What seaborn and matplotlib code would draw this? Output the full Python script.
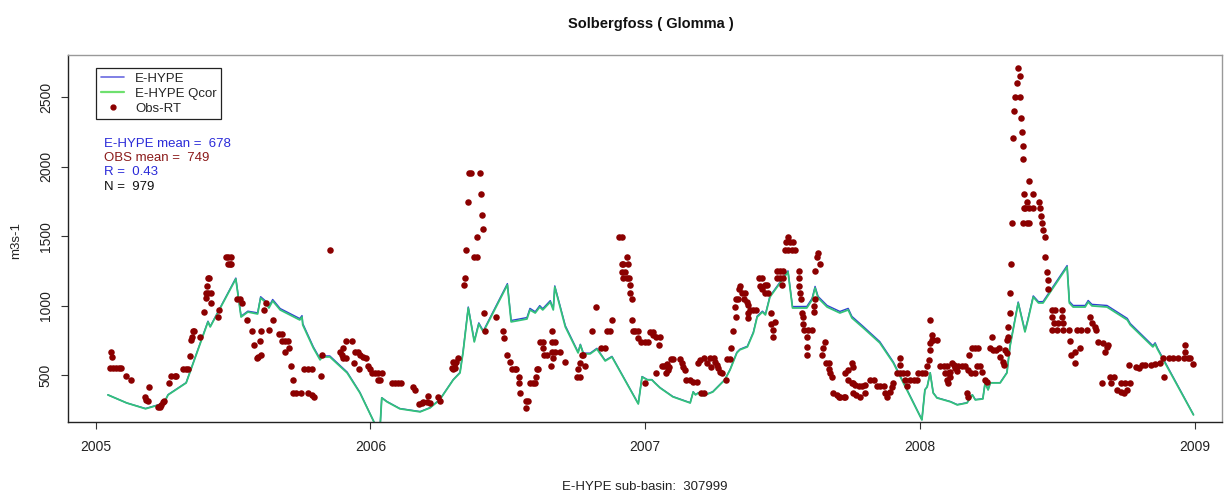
import matplotlib
matplotlib.use("Agg")
import matplotlib.pyplot as plt
from matplotlib.lines import Line2D
import pandas as pd
import seaborn as sns

# Simulated discharge (days counted from 2005-01-01), m3/s
line_day = [16, 41, 66, 85, 92, 96, 120, 149, 152, 186, 193, 202, 215, 219, 225, 230, 235, 245, 271, 274,
            275, 289, 298, 301, 311, 334, 351, 371, 378, 380, 387, 404, 431, 444, 457, 475, 484, 488, 495, 503,
            509, 515, 547, 552, 573, 577, 584, 590, 594, 604, 608, 610, 624, 641, 644, 648, 657, 666, 677, 686,
            721, 726, 733, 739, 743, 750, 767, 790, 794, 797, 801, 807, 820, 836, 843, 852, 856, 866, 874, 879,
            886, 890, 896, 920, 926, 945, 952, 956, 960, 972, 989, 1000, 1005, 1020, 1042, 1060, 1098, 1102, 1105, 1109,
            1113, 1118, 1136, 1145, 1158, 1165, 1169, 1179, 1182, 1186, 1189, 1202, 1211, 1215, 1226, 1235, 1239, 1246, 1253, 1259,
            1291, 1294, 1299, 1315, 1319, 1324, 1344, 1371, 1375, 1405, 1408, 1411, 1459]
qcor_val = [360, 302, 260, 290, 317, 360, 446, 885, 849, 1194, 920, 956, 942, 1057, 1028, 985, 1036, 971, 899, 920,
            863, 698, 612, 633, 633, 518, 374, 150, 150, 338, 310, 260, 238, 266, 324, 468, 518, 662, 985, 741,
            870, 813, 1151, 885, 906, 971, 949, 992, 971, 1028, 971, 1136, 849, 662, 719, 655, 655, 690, 604, 633,
            295, 489, 468, 468, 446, 410, 346, 302, 381, 360, 374, 353, 381, 468, 540, 662, 684, 705, 806, 920,
            956, 935, 1064, 1244, 985, 985, 1043, 1129, 1057, 992, 949, 971, 913, 842, 734, 590, 180, 396, 417, 518,
            374, 338, 310, 288, 302, 360, 324, 331, 446, 396, 446, 446, 518, 705, 1021, 813, 899, 1064, 1021, 1021,
            1280, 1021, 992, 992, 1028, 1000, 992, 899, 863, 705, 726, 690, 216]
ehype_val = [360, 302, 262, 292, 320, 362, 448, 890, 852, 1200, 926, 962, 950, 1066, 1038, 995, 1046, 981, 909, 930,
             873, 706, 620, 640, 640, 524, 378, 150, 150, 340, 312, 262, 240, 268, 326, 470, 522, 668, 992, 748,
             878, 820, 1160, 895, 916, 982, 958, 1002, 980, 1038, 980, 1144, 858, 668, 724, 660, 660, 695, 608, 637,
             297, 492, 470, 470, 448, 412, 348, 304, 383, 362, 376, 355, 383, 470, 543, 666, 688, 710, 812, 926,
             962, 941, 1070, 1252, 995, 996, 1054, 1140, 1068, 1003, 960, 982, 924, 852, 743, 597, 182, 398, 419, 520,
             376, 340, 312, 290, 304, 362, 326, 333, 448, 398, 448, 448, 521, 710, 1028, 820, 906, 1072, 1030, 1031,
             1290, 1032, 1003, 1003, 1039, 1011, 1003, 910, 873, 714, 735, 698, 218]

# Observations (Obs-RT), split by year
obs05_day = [20, 21, 19, 23, 27, 31, 33, 40, 47, 71, 65, 66, 69, 82, 85, 87, 89, 91, 97, 100,
             105, 107, 116, 120, 122, 125, 127, 128, 129, 130, 138, 144, 146, 147, 149, 153, 148, 149, 150, 153,
             162, 164, 173, 176, 179, 175, 178, 180, 187, 191, 194, 201, 207, 220, 210, 218, 214, 216, 219, 223, 226,
             230, 235, 244, 247, 247, 251, 256, 251, 257, 259, 262, 262, 266, 273, 276, 282, 287, 282, 287, 290,
             299, 300, 311, 324, 327, 329, 328, 332, 341, 332, 344, 349, 351, 355, 359, 343, 350, 362, 364, 367,
             371, 375, 380, 375, 378, 393, 398, 402, 405, 421, 424, 429, 433, 435, 440, 442, 444, 455, 457, 475,
             477, 482]
obs05_val = [671, 635, 556, 556, 556, 556, 556, 496, 468, 420, 348, 324, 319, 276, 271, 288, 312, 319, 444, 496,
             496, 496, 545, 545, 545, 640, 755, 775, 822, 822, 775, 959, 1055, 1095, 1095, 1095, 1143, 1199, 1199, 1023,
             918, 971, 1350, 1350, 1350, 1302, 1302, 1302, 1048, 1048, 1019, 899, 822, 822, 719, 748, 624, 635, 647, 971, 1023,
             827, 899, 798, 798, 748, 748, 748, 671, 695, 568, 468, 372, 372, 372, 545, 545, 545, 372, 360, 343,
             496, 647, 1402, 671, 647, 624, 695, 748, 748, 624, 671, 671, 647, 635, 624, 592, 545, 568, 545, 520,
             520, 520, 520, 468, 468, 444, 444, 444, 444, 420, 396, 295, 304, 312, 312, 353, 300, 348, 319, 545,
             592, 624]
obs06_day = [473, 477, 475, 479, 489, 491, 492, 495, 496, 499, 503, 506, 506, 510, 512, 513, 514, 516, 517, 532,
             541, 543, 546, 551, 553, 557, 559, 562, 563, 564, 572, 575, 572, 577, 581, 584, 585, 587, 588, 590,
             594, 594, 596, 599, 606, 606, 610, 606, 610, 617, 608, 605, 624, 641, 644, 640, 643, 646, 648, 650,
             659, 665, 672, 677, 680, 683, 686, 696, 699, 699, 701, 700, 703, 706, 707, 701, 706, 709, 710, 710,
             712, 712, 714, 717, 721, 721, 724, 730, 734, 730]
obs06_val = [552, 552, 599, 599, 1151, 1199, 1402, 1750, 1954, 1954, 1350, 1350, 1498, 1954, 1803, 1652, 1551, 947, 820, 923,
             820, 767, 647, 595, 547, 547, 547, 491, 444, 372, 319, 319, 268, 444, 444, 444, 491, 545, 545, 743,
             743, 695, 647, 647, 820, 743, 743, 671, 671, 671, 624, 568, 595, 545, 588, 491, 491, 647, 647, 568,
             820, 995, 695, 695, 820, 820, 895, 1498, 1498, 1300, 1300, 1246, 1246, 1350, 1300, 1199, 1199, 1199, 1151, 1095,
             1048, 895, 820, 820, 820, 767, 743, 743, 743, 444]
obs07_day = [737, 740, 741, 745, 750, 748, 745, 752, 755, 759, 758, 761, 762, 764, 767, 776, 779, 781, 783, 785,
             790, 794, 799, 801, 803, 808, 805, 808, 816, 821, 823, 825, 827, 830, 832, 812, 817, 838, 839, 843,
             844, 847, 849, 851, 854, 851, 855, 856, 859, 863, 861, 865, 867, 870, 874, 878, 867, 867, 881, 885,
             883, 885, 890, 892, 890, 894, 898, 898, 900, 900, 903, 905, 910, 914, 905, 910, 914, 912, 918, 923,
             927, 920, 916, 920, 925, 929, 934, 934, 935, 936, 937, 938, 940, 940, 941, 947, 945, 945, 945, 952,
             954, 954, 956, 956, 958, 960, 963, 965, 967, 969, 971, 974, 974, 978, 980, 985, 988, 976, 989, 994,
             996, 1005, 1006, 1000, 996, 1000, 1005, 1007, 1009, 1014, 1018, 1023, 1007, 1011, 1016, 1023, 1029, 1034, 1038, 1042,
             1047, 1049, 1051, 1056, 1058, 1060, 1065, 1069, 1073, 1078, 1069, 1069, 1076, 1082, 1087, 1091, 1078, 1093, 1098, 1102]
obs07_val = [815, 815, 791, 775, 775, 719, 520, 568, 568, 582, 516, 540, 564, 617, 617, 617, 592, 564, 540, 468,
             468, 456, 456, 588, 611, 624, 372, 372, 624, 624, 599, 575, 552, 527, 516, 588, 564, 468, 617, 617,
             695, 822, 995, 1048, 1048, 923, 1120, 1143, 1095, 1095, 1048, 1031, 1007, 971, 971, 971, 947, 911, 1199, 1199,
             1143, 1120, 1151, 1151, 1095, 1095, 947, 870, 827, 775, 887, 1251, 1251, 1251, 1199, 1199, 1199, 1151, 1462, 1462,
             1462, 1498, 1402, 1402, 1402, 1402, 1251, 1199, 1143, 1095, 1048, 947, 923, 870, 827, 827, 775, 707, 647, 827,
             959, 1000, 1048, 1251, 1354, 1378, 1300, 647, 695, 743, 592, 592, 545, 491, 372, 360, 348, 516, 343, 343,
             343, 592, 564, 540, 520, 468, 448, 448, 431, 424, 424, 431, 372, 360, 343, 372, 468, 468, 424, 424,
             424, 372, 348, 384, 420, 448, 516, 516, 516, 516, 575, 624, 468, 468, 468, 468, 424, 516, 516, 516]
obs08_day = [1105, 1107, 1109, 1109, 1111, 1113, 1118, 1111, 1109, 1122, 1127, 1131, 1129, 1133, 1131, 1133, 1138, 1140, 1142, 1144,
             1146, 1151, 1155, 1159, 1136, 1136, 1158, 1159, 1161, 1164, 1169, 1173, 1163, 1169, 1171, 1175, 1178, 1182, 1184, 1191,
             1188, 1192, 1197, 1201, 1202, 1206, 1207, 1209, 1211, 1211, 1213, 1213, 1215, 1215, 1216, 1218, 1233, 1238, 1241, 1235,
             1241, 1238, 1226, 1228, 1224, 1222, 1229, 1220, 1230, 1219, 1231, 1232, 1233, 1241, 1234, 1246, 1234, 1246, 1253, 1255,
             1256, 1257, 1259, 1261, 1262, 1264, 1265, 1266, 1271, 1275, 1284, 1271, 1284, 1273, 1279, 1286, 1271, 1278, 1286, 1293,
             1295, 1296, 1302, 1308, 1301, 1304, 1310, 1317, 1322, 1324, 1328, 1330, 1332, 1339, 1344, 1342, 1346, 1337, 1348, 1353,
             1350, 1357, 1362, 1366, 1370, 1362, 1368, 1375, 1373, 1382, 1386, 1390, 1395, 1402, 1408, 1415, 1419, 1426, 1432, 1439,
             1446, 1452, 1420, 1448, 1448, 1455, 1458]
obs08_val = [568, 611, 684, 731, 755, 755, 755, 791, 899, 568, 568, 568, 516, 516, 468, 444, 592, 575, 552, 535,
             568, 568, 568, 540, 527, 491, 372, 348, 647, 695, 695, 695, 516, 516, 568, 568, 527, 468, 456, 775,
             695, 684, 684, 695, 635, 599, 575, 684, 659, 755, 779, 851, 947, 1095, 1300, 1599, 1599, 1599, 1599, 1702,
             1702, 1750, 2709, 2653, 2605, 2505, 2505, 2404, 2354, 2205, 2253, 2152, 2054, 1901, 1803, 1803, 1702, 1702, 1750, 1702,
             1649, 1599, 1546, 1498, 1350, 1246, 1187, 1120, 971, 971, 971, 923, 923, 875, 875, 875, 827, 827, 827, 827,
             751, 647, 671, 695, 592, 827, 827, 827, 923, 875, 851, 827, 743, 731, 707, 671, 719, 444, 491, 491,
             444, 396, 384, 372, 396, 444, 444, 444, 575, 564, 552, 575, 575, 575, 582, 592, 624, 624, 624, 624,
             624, 624, 491, 719, 671, 624, 582]

year_ticks = ["2005", "2006", "2007", "2008", "2009"]
stats_lines = ["E-HYPE mean =  678", "OBS mean =  749", "R =  0.43", "N =  979"]

start = pd.Timestamp("2005-01-01")
sim = pd.DataFrame({"date": start + pd.to_timedelta(line_day, unit="D"),
                    "ehype": ehype_val, "qcor": qcor_val})
obs = pd.DataFrame({"day": obs05_day + obs06_day + obs07_day + obs08_day,
                    "q": obs05_val + obs06_val + obs07_val + obs08_val})
obs["date"] = start + pd.to_timedelta(obs["day"], unit="D")

sns.set_style("ticks")
plt.rcParams["font.family"] = ["Liberation Sans", "DejaVu Sans"]

fig = plt.figure(figsize=(12.26, 4.97), dpi=100)
ax = fig.add_axes([0.0555, 0.1509, 0.9413, 0.7384])

# blue under, green on top so only a thin blue edge shows
sns.lineplot(data=sim, x="date", y="ehype", color="#3040d0", linewidth=1.0, sort=False,
             estimator=None, ax=ax)
sns.lineplot(data=sim, x="date", y="qcor", color="#33c27a", linewidth=1.3, sort=False,
             estimator=None, ax=ax)
sns.scatterplot(data=obs, x="date", y="q", color="#8b0000", s=22, linewidth=0, ax=ax, zorder=3)

ax.set_xlim(start + pd.Timedelta(days=-37), start + pd.Timedelta(days=1497))
ax.set_ylim(165, 2804)
ax.set_xticks([pd.Timestamp(f"{y}-01-01") for y in year_ticks])
ax.set_xticklabels(year_ticks)
ax.set_yticks([500, 1000, 1500, 2000, 2500])
ax.set_yticklabels(["500", "1000", "1500", "2000", "2500"], rotation=90, va="center")
ax.tick_params(axis="both", labelsize=10, length=5, width=0.8, color="#333333", labelcolor="#222222")
ax.tick_params(axis="x", pad=8)
ax.tick_params(axis="y", pad=6)
ax.set_xlabel("")
ax.set_ylabel("")
for side in ["left", "bottom"]:
    ax.spines[side].set_color("#222222")
    ax.spines[side].set_linewidth(1.0)
for side in ["top", "right"]:
    ax.spines[side].set_visible(True)
    ax.spines[side].set_color("#999999")
    ax.spines[side].set_linewidth(1.0)

handles = [Line2D([], [], color="#6a6ae0", linewidth=1.2),
           Line2D([], [], color="#6ee06e", linewidth=1.6),
           Line2D([], [], color="#8b0000", marker="o", markersize=3.5, linestyle="")]
leg = ax.legend(handles, ["E-HYPE", "E-HYPE Qcor", "Obs-RT"], loc="upper left",
                bbox_to_anchor=(0.0243, 0.9646), borderaxespad=0, fancybox=False,
                fontsize=9.5, handlelength=1.8, handletextpad=0.8, labelspacing=0.2,
                borderpad=0.35, framealpha=1)
leg.get_frame().set_edgecolor("#222222")
leg.get_frame().set_linewidth(0.9)

stat_colors = ["#2a2ad8", "#8b1a1a", "#2a2ad8", "#111111"]
stat_y = [0.7575, 0.7193, 0.6812, 0.6403]
for txt, col, yy in zip(stats_lines, stat_colors, stat_y):
    ax.text(0.0312, yy, txt, color=col, fontsize=9.5, transform=ax.transAxes, va="center", ha="left")

fig.text(0.531, 0.9517, "Solbergfoss ( Glomma )", ha="center", va="center",
         fontsize=10.5, fontweight="bold", color="#111111")
fig.text(0.526, 0.0201, "E-HYPE sub-basin:  307999", ha="center", va="center",
         fontsize=9.5, color="#222222")
fig.text(0.013, 0.517, "m3s-1", ha="center", va="center", rotation=90,
         fontsize=9.5, color="#222222")

fig.savefig("out.png", dpi=100)
